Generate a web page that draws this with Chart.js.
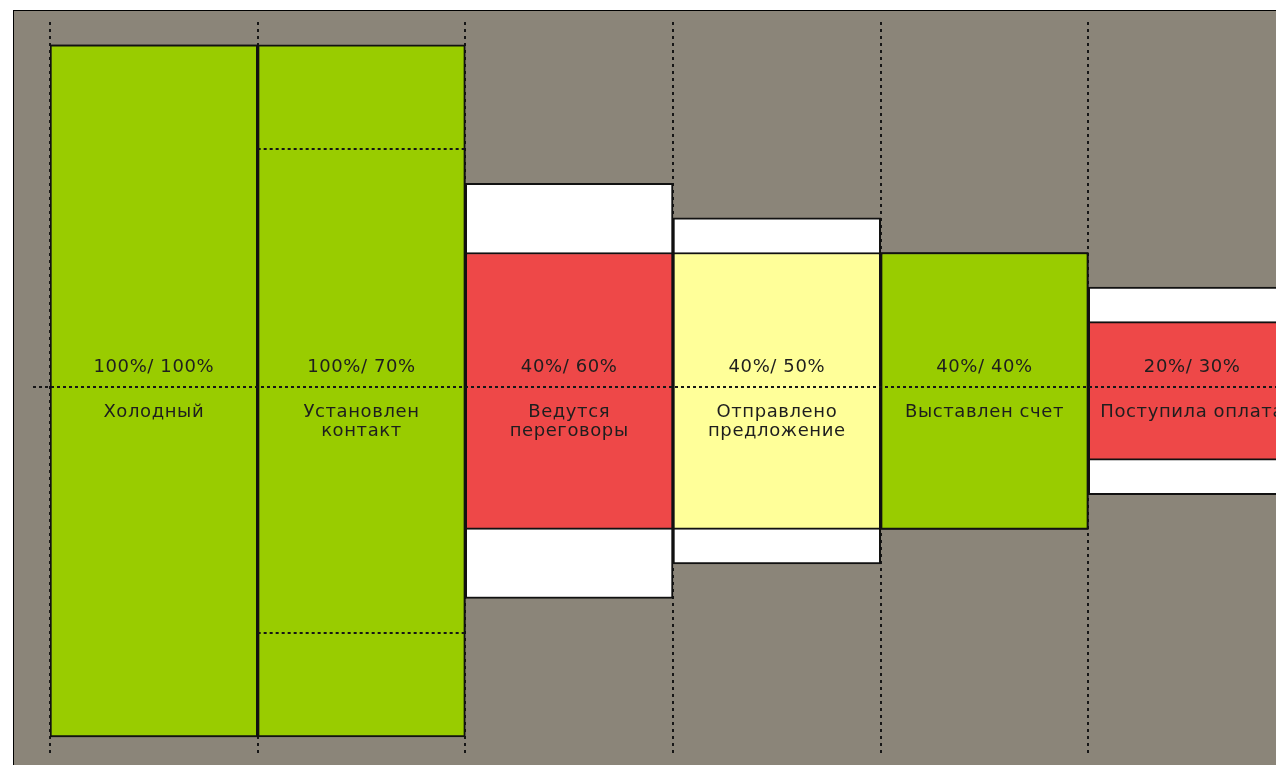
<!DOCTYPE html>
<html>
<head>
<meta charset="utf-8">
<script src="https://cdn.jsdelivr.net/npm/chart.js@4"></script>
<style>
  html, body { margin: 0; padding: 0; background: #fff; overflow: hidden; width: 1276px; height: 765px; }
  #frame { position: absolute; left: 13px; top: 10px; width: 1300px; height: 800px;
           border-left: 1px solid #000; border-top: 1px solid #000; background: #8b8579; }
  #wrap { position: absolute; left: 0; top: 0; width: 1300px; height: 765px; }
</style>
</head>
<body>
<div id="frame"></div>
<div id="wrap"><canvas id="funnel"></canvas></div>
<script>
// Data
const stages = ["Холодный", "Установлен\nконтакт", "Ведутся\nпереговоры", "Отправлено\nпредложение", "Выставлен счет", "Поступила оплата"];
const actual = [100, 100, 40, 40, 40, 20];
const plan = [100, 70, 60, 50, 40, 30];
const stageColors = ["#99cc00", "#99cc00", "#ee4848", "#ffff99", "#99cc00", "#ee4848"];

const LINE = "#161616";
const TEXT = "#1e1e1e";

// Grid, center line, plan marks and labels
const funnelDecor = {
  id: "funnelDecor",
  beforeDatasetsDraw(chart) {
    const { ctx, chartArea, scales: { x } } = chart;
    const half = (x.getPixelForValue(1) - x.getPixelForValue(0)) / 2;
    ctx.save();
    ctx.strokeStyle = LINE;
    ctx.lineWidth = 2;
    ctx.setLineDash([3, 4]);
    for (let i = 0; i <= stages.length; i++) {
      const px = Math.round(x.getPixelForValue(i) - half);
      ctx.beginPath();
      ctx.moveTo(px, chartArea.top);
      ctx.lineTo(px, chartArea.bottom);
      ctx.stroke();
    }
    ctx.restore();
  },
  afterDatasetsDraw(chart) {
    const { ctx, chartArea, scales: { x, y } } = chart;
    const half = (x.getPixelForValue(1) - x.getPixelForValue(0)) / 2;
    ctx.save();
    ctx.strokeStyle = LINE;
    ctx.lineWidth = 2;
    ctx.setLineDash([3, 3]);

    // center line
    const cy = Math.round(y.getPixelForValue(0.5));
    ctx.beginPath();
    ctx.moveTo(33, cy);
    ctx.lineTo(chartArea.right + 20, cy);
    ctx.stroke();

    // plan below actual -> dashed marks inside the bar
    plan.forEach((p, i) => {
      if (p >= actual[i]) return;
      const cx = x.getPixelForValue(i);
      [p / 2, -p / 2].forEach((v) => {
        const py = Math.round(y.getPixelForValue(v));
        ctx.beginPath();
        ctx.moveTo(cx - half, py);
        ctx.lineTo(cx + half, py);
        ctx.stroke();
      });
    });

    // labels
    ctx.setLineDash([]);
    ctx.fillStyle = TEXT;
    ctx.textAlign = "center";
    ctx.textBaseline = "middle";
    ctx.font = "18px 'DejaVu Sans'";
    ctx.letterSpacing = "0.6px";
    const yc = y.getPixelForValue(0);
    stages.forEach((name, i) => {
      const cx = x.getPixelForValue(i);
      ctx.fillText(actual[i] + "%/ " + plan[i] + "%", cx, yc - 24);
      name.split("\n").forEach((line, k) => {
        ctx.fillText(line, cx, yc + 21 + k * 19);
      });
    });
    ctx.restore();
  },
};

function initChart() {
  new Chart(document.getElementById("funnel"), {
    type: "bar",
    data: {
      labels: stages,
      datasets: [
        {
          data: actual.map((v) => [-v / 2, v / 2]),
          backgroundColor: stageColors,
          borderColor: "#111",
          borderWidth: 2,
          borderSkipped: false,
          grouped: false,
          categoryPercentage: 1,
          barPercentage: 1,
          order: 0,
        },
        {
          data: plan.map((v) => [-v / 2, v / 2]),
          backgroundColor: "#ffffff",
          borderColor: "#111",
          borderWidth: 2,
          borderSkipped: false,
          grouped: false,
          categoryPercentage: 1,
          barPercentage: 1,
          order: 1,
        },
      ],
    },
    options: {
      responsive: true,
      maintainAspectRatio: false,
      animation: false,
      layout: { padding: { left: 50, right: 4, top: 22, bottom: 8 } },
      plugins: { legend: { display: false }, tooltip: { enabled: false } },
      scales: {
        x: { display: false },
        y: { display: false, min: -52.9, max: 53.3 },
      },
    },
    plugins: [funnelDecor],
  });
}

window.addEventListener("DOMContentLoaded", initChart);
</script>
</body>
</html>
